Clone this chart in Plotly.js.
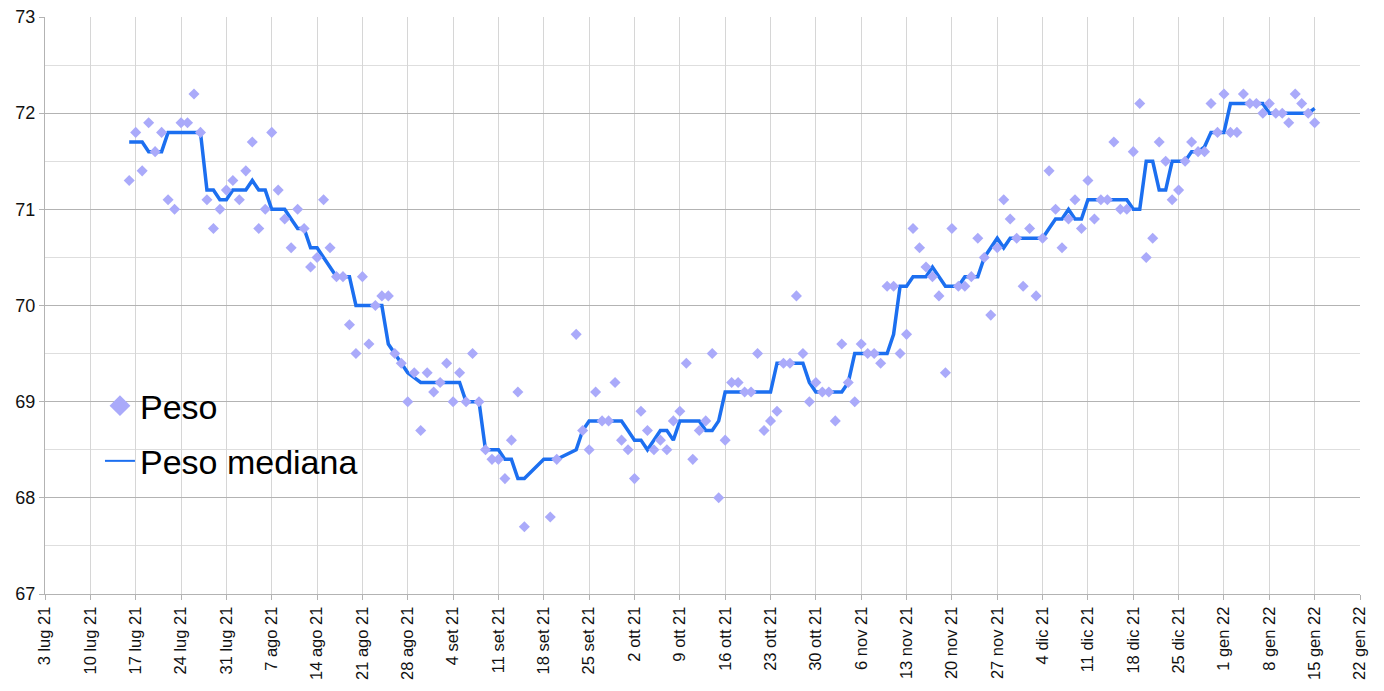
<!DOCTYPE html>
<html>
<head>
<meta charset="utf-8">
<script src="https://cdn.plot.ly/plotly-3.0.1.min.js"></script>
<style>html,body{margin:0;padding:0;background:#fff;}#chart{width:1384px;height:691px;}</style>
</head>
<body>
<div id="chart"></div>
<script>
const pesoDates = [
"2021-07-16","2021-07-17","2021-07-18","2021-07-19","2021-07-20","2021-07-21","2021-07-22","2021-07-23","2021-07-24","2021-07-25","2021-07-26","2021-07-27","2021-07-28","2021-07-29","2021-07-30","2021-07-31",
"2021-08-01","2021-08-02","2021-08-03","2021-08-04","2021-08-05","2021-08-06","2021-08-07","2021-08-08","2021-08-09","2021-08-10","2021-08-11","2021-08-12","2021-08-13","2021-08-14","2021-08-15","2021-08-16","2021-08-17","2021-08-18","2021-08-19","2021-08-20","2021-08-21","2021-08-22","2021-08-23","2021-08-24","2021-08-25","2021-08-26","2021-08-27","2021-08-28","2021-08-29","2021-08-30","2021-08-31",
"2021-09-01","2021-09-02","2021-09-03","2021-09-04","2021-09-05","2021-09-06","2021-09-07","2021-09-08","2021-09-09","2021-09-10","2021-09-11","2021-09-12","2021-09-13","2021-09-14","2021-09-15","2021-09-19","2021-09-20","2021-09-23","2021-09-24","2021-09-25","2021-09-26","2021-09-27","2021-09-28","2021-09-29","2021-09-30",
"2021-10-01","2021-10-02","2021-10-03","2021-10-04","2021-10-05","2021-10-06","2021-10-07","2021-10-08","2021-10-09","2021-10-10","2021-10-11","2021-10-12","2021-10-13","2021-10-14","2021-10-15","2021-10-16","2021-10-17","2021-10-18","2021-10-19","2021-10-20","2021-10-21","2021-10-22","2021-10-23","2021-10-24","2021-10-25","2021-10-26","2021-10-27","2021-10-28","2021-10-29","2021-10-30","2021-10-31",
"2021-11-01","2021-11-02","2021-11-03","2021-11-04","2021-11-05","2021-11-06","2021-11-07","2021-11-08","2021-11-09","2021-11-10","2021-11-11","2021-11-12","2021-11-13","2021-11-14","2021-11-15","2021-11-16","2021-11-17","2021-11-18","2021-11-19","2021-11-20","2021-11-21","2021-11-22","2021-11-23","2021-11-24","2021-11-25","2021-11-26","2021-11-27","2021-11-28","2021-11-29","2021-11-30",
"2021-12-01","2021-12-02","2021-12-03","2021-12-04","2021-12-05","2021-12-06","2021-12-07","2021-12-08","2021-12-09","2021-12-10","2021-12-11","2021-12-12","2021-12-13","2021-12-14","2021-12-15","2021-12-16","2021-12-17","2021-12-18","2021-12-19","2021-12-20","2021-12-21","2021-12-22","2021-12-23","2021-12-24","2021-12-25","2021-12-26","2021-12-27","2021-12-28","2021-12-29","2021-12-30","2021-12-31",
"2022-01-01","2022-01-02","2022-01-03","2022-01-04","2022-01-05","2022-01-06","2022-01-07","2022-01-08","2022-01-09","2022-01-10","2022-01-11","2022-01-12","2022-01-13","2022-01-14","2022-01-15"
];
const pesoValues = [
71.3,71.8,71.4,71.9,71.6,71.8,71.1,71.0,71.9,71.9,72.2,71.8,71.1,70.8,71.0,71.2,
71.3,71.1,71.4,71.7,70.8,71.0,71.8,71.2,70.9,70.6,71.0,70.8,70.4,70.5,71.1,70.6,70.3,70.3,69.8,69.5,70.3,69.6,70.0,70.1,70.1,69.5,69.4,69.0,69.3,68.7,69.3,
69.1,69.2,69.4,69.0,69.3,69.0,69.5,69.0,68.5,68.4,68.4,68.2,68.6,69.1,67.7,67.8,68.4,69.7,68.7,68.5,69.1,68.8,68.8,69.2,68.6,
68.5,68.2,68.9,68.7,68.5,68.6,68.5,68.8,68.9,69.4,68.4,68.7,68.8,69.5,68.0,68.6,69.2,69.2,69.1,69.1,69.5,68.7,68.8,68.9,69.4,69.4,70.1,69.5,69.0,69.2,69.1,
69.1,68.8,69.6,69.2,69.0,69.6,69.5,69.5,69.4,70.2,70.2,69.5,69.7,70.8,70.6,70.4,70.3,70.1,69.3,70.8,70.2,70.2,70.3,70.7,70.5,69.9,70.6,71.1,70.9,70.7,
70.2,70.8,70.1,70.7,71.4,71.0,70.6,70.9,71.1,70.8,71.3,70.9,71.1,71.1,71.7,71.0,71.0,71.6,72.1,70.5,70.7,71.7,71.5,71.1,71.2,71.5,71.7,71.6,71.6,72.1,71.8,
72.2,71.8,71.8,72.2,72.1,72.1,72.0,72.1,72.0,72.0,71.9,72.2,72.1,72.0,71.9
];

const medianaDates = [
"2021-07-16","2021-07-17","2021-07-18","2021-07-19","2021-07-20","2021-07-21","2021-07-22","2021-07-23","2021-07-24","2021-07-25","2021-07-26","2021-07-27","2021-07-28","2021-07-29","2021-07-30","2021-07-31",
"2021-08-01","2021-08-02","2021-08-03","2021-08-04","2021-08-05","2021-08-06","2021-08-07","2021-08-08","2021-08-09","2021-08-10","2021-08-11","2021-08-12","2021-08-13","2021-08-14","2021-08-15","2021-08-16","2021-08-17","2021-08-18","2021-08-19","2021-08-20","2021-08-21","2021-08-22","2021-08-23","2021-08-24","2021-08-25","2021-08-26","2021-08-27","2021-08-28","2021-08-29","2021-08-30","2021-08-31",
"2021-09-01","2021-09-02","2021-09-03","2021-09-04","2021-09-05","2021-09-06","2021-09-07","2021-09-08","2021-09-09","2021-09-10","2021-09-11","2021-09-12","2021-09-13","2021-09-14","2021-09-15","2021-09-18","2021-09-19","2021-09-20","2021-09-23","2021-09-24","2021-09-25","2021-09-26","2021-09-27","2021-09-28","2021-09-29","2021-09-30",
"2021-10-01","2021-10-02","2021-10-03","2021-10-04","2021-10-05","2021-10-06","2021-10-07","2021-10-08","2021-10-09","2021-10-10","2021-10-11","2021-10-12","2021-10-13","2021-10-14","2021-10-15","2021-10-16","2021-10-17","2021-10-18","2021-10-19","2021-10-20","2021-10-21","2021-10-22","2021-10-23","2021-10-24","2021-10-25","2021-10-26","2021-10-27","2021-10-28","2021-10-29","2021-10-30","2021-10-31",
"2021-11-01","2021-11-02","2021-11-03","2021-11-04","2021-11-05","2021-11-06","2021-11-07","2021-11-08","2021-11-09","2021-11-10","2021-11-11","2021-11-12","2021-11-13","2021-11-14","2021-11-15","2021-11-16","2021-11-17","2021-11-18","2021-11-19","2021-11-20","2021-11-21","2021-11-22","2021-11-23","2021-11-24","2021-11-25","2021-11-26","2021-11-27","2021-11-28","2021-11-29","2021-11-30",
"2021-12-01","2021-12-02","2021-12-03","2021-12-04","2021-12-05","2021-12-06","2021-12-07","2021-12-08","2021-12-09","2021-12-10","2021-12-11","2021-12-12","2021-12-13","2021-12-14","2021-12-15","2021-12-16","2021-12-17","2021-12-18","2021-12-19","2021-12-20","2021-12-21","2021-12-22","2021-12-23","2021-12-24","2021-12-25","2021-12-26","2021-12-27","2021-12-28","2021-12-29","2021-12-30","2021-12-31",
"2022-01-01","2022-01-02","2022-01-03","2022-01-04","2022-01-05","2022-01-06","2022-01-07","2022-01-08","2022-01-09","2022-01-10","2022-01-11","2022-01-12","2022-01-13","2022-01-14","2022-01-15"
];
const medianaValues = [
71.7,71.7,71.7,71.6,71.6,71.6,71.8,71.8,71.8,71.8,71.8,71.8,71.2,71.2,71.1,71.1,
71.2,71.2,71.2,71.3,71.2,71.2,71.0,71.0,71.0,70.9,70.8,70.8,70.6,70.6,70.5,70.4,70.3,70.3,70.3,70.0,70.0,70.0,70.0,70.0,69.6,69.5,69.4,69.3,69.25,69.2,69.2,
69.2,69.2,69.2,69.2,69.2,69.0,69.0,69.0,68.5,68.5,68.5,68.4,68.4,68.2,68.2,68.4,68.4,68.4,68.5,68.7,68.8,68.8,68.8,68.8,68.8,68.8,
68.7,68.6,68.6,68.5,68.6,68.7,68.7,68.6,68.8,68.8,68.8,68.8,68.7,68.7,68.8,69.1,69.1,69.1,69.1,69.1,69.1,69.1,69.1,69.4,69.4,69.4,69.4,69.4,69.2,69.1,69.1,
69.1,69.1,69.1,69.2,69.5,69.5,69.5,69.5,69.5,69.5,69.7,70.2,70.2,70.3,70.3,70.3,70.4,70.3,70.2,70.2,70.2,70.3,70.3,70.3,70.5,70.6,70.7,70.6,70.7,70.7,
70.7,70.7,70.7,70.7,70.8,70.9,70.9,71.0,70.9,70.9,71.1,71.1,71.1,71.1,71.1,71.1,71.1,71.0,71.0,71.5,71.5,71.2,71.2,71.5,71.5,71.5,71.6,71.6,71.65,71.8,71.8,
71.8,72.1,72.1,72.1,72.1,72.1,72.1,72.0,72.0,72.0,72.0,72.0,72.0,72.0,72.05
];

const tickDates = ["2021-07-03","2021-07-10","2021-07-17","2021-07-24","2021-07-31","2021-08-07","2021-08-14","2021-08-21","2021-08-28","2021-09-04","2021-09-11","2021-09-18","2021-09-25","2021-10-02","2021-10-09","2021-10-16","2021-10-23","2021-10-30","2021-11-06","2021-11-13","2021-11-20","2021-11-27","2021-12-04","2021-12-11","2021-12-18","2021-12-25","2022-01-01","2022-01-08","2022-01-15","2022-01-22"];
const tickLabels = ["3 lug 21","10 lug 21","17 lug 21","24 lug 21","31 lug 21","7 ago 21","14 ago 21","21 ago 21","28 ago 21","4 set 21","11 set 21","18 set 21","25 set 21","2 ott 21","9 ott 21","16 ott 21","23 ott 21","30 ott 21","6 nov 21","13 nov 21","20 nov 21","27 nov 21","4 dic 21","11 dic 21","18 dic 21","25 dic 21","1 gen 22","8 gen 22","15 gen 22","22 gen 22"];

const markerColor = "#aaaafa";
const lineColor = "#1c6ff0";

const traces = [
  {x: medianaDates, y: medianaValues, type: "scatter", mode: "lines", name: "Peso mediana",
   line: {color: lineColor, width: 3.5}, showlegend: false, hoverinfo: "skip"},
  {x: pesoDates, y: pesoValues, type: "scatter", mode: "markers", name: "Peso",
   marker: {symbol: "diamond", size: 8.5, color: markerColor}, showlegend: false},
  {x: [null], y: [null], type: "scatter", mode: "markers", name: "Peso", legendgroup: "a",
   marker: {symbol: "diamond", size: 16, color: markerColor}},
  {x: [null], y: [null], type: "scatter", mode: "lines", name: "Peso mediana", legendgroup: "b",
   line: {color: lineColor, width: 2}}
];

const layout = {
  width: 1384, height: 691,
  margin: {l: 45, r: 24, t: 17, b: 97},
  paper_bgcolor: "#ffffff", plot_bgcolor: "#ffffff",
  font: {family: "Liberation Sans, Arial, sans-serif", color: "#111"},
  showlegend: true,
  legend: {x: 0.0418, y: 0.376, xanchor: "left", yanchor: "top", bgcolor: "rgba(0,0,0,0)",
           font: {size: 34, color: "#000"}, traceorder: "grouped", tracegroupgap: 8},
  xaxis: {type: "date", range: ["2021-07-03", "2022-01-22"],
          tickmode: "array", tickvals: tickDates, ticktext: tickLabels, tickangle: -90,
          tickfont: {size: 16.5, color: "#111"}, ticks: "outside", ticklen: 5, tickcolor: "#b3b3b3",
          showgrid: true, gridcolor: "#d6d6d6", gridwidth: 1,
          showline: true, linecolor: "#b3b3b3", linewidth: 1, zeroline: false},
  yaxis: {range: [67, 73], dtick: 1, tick0: 67, tickfont: {size: 18, color: "#111"},
          ticks: "outside", ticklen: 5, tickcolor: "#b3b3b3",
          showgrid: true, gridcolor: "#b3b3b3", gridwidth: 1,
          minor: {dtick: 0.5, showgrid: true, gridcolor: "#dedede", gridwidth: 1, ticks: ""},
          showline: true, linecolor: "#b3b3b3", linewidth: 1, zeroline: false}
};

Plotly.newPlot("chart", traces, layout, {displayModeBar: false, staticPlot: true});
</script>
</body>
</html>
